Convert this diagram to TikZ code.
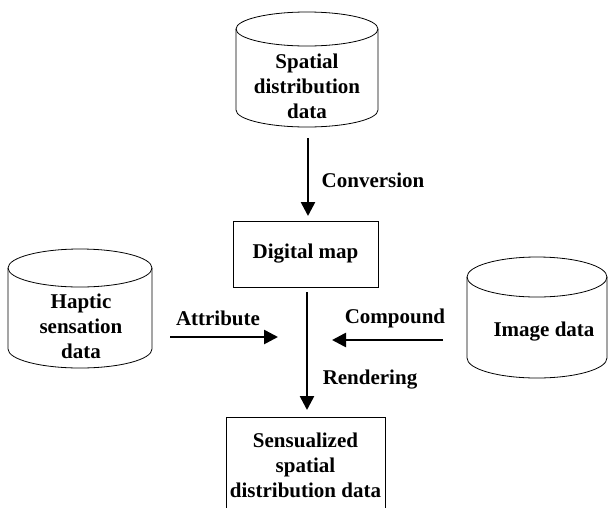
\documentclass[tikz,border=0pt]{standalone}
\usepackage{fontspec}
\setmainfont{Liberation Serif}
\usetikzlibrary{arrows.meta}
\newcommand\dbcyl[5]{% cx, ytop, ybot, rx, ry
  \draw[thinline] (#1-#4,#2) -- (#1-#4,#3) arc[start angle=180,end angle=360,x radius=#4,y radius=#5] -- (#1+#4,#2);
  \draw[thinline] (#1,#2) ellipse[x radius=#4,y radius=#5];}
\begin{document}
\begin{tikzpicture}[x=1pt,y=1pt,
  lbl/.style={font=\fontsize{21}{25}\selectfont\bfseries, align=center, inner sep=0pt},
  thinline/.style={line width=0.8pt},
  flow/.style={line width=2.6pt, -{Triangle[length=14pt,width=14pt]}},
  boxnode/.style={draw, line width=0.8pt, lbl}]
\clip (0,0) rectangle (608,-507);
\useasboundingbox (0,0) rectangle (608,-507);
\fill[white] (0,0) rectangle (608,-507);
% cylinders
\dbcyl{307}{-29}{-110}{71}{17}
\dbcyl{80}{-268}{-349}{72}{19}
\dbcyl{537}{-277}{-358}{70}{20}
\node[lbl] (spatial) at (307,-86) {Spatial\\distribution\\data};
\node[lbl] (haptic) at (81,-326) {Haptic\\sensation\\data};
\node[lbl] (image) at (544,-332) {Image data};
% boxes
\node[boxnode, minimum width=145pt, minimum height=66pt] (dmap) at (305.5,-254) {Digital map};
\node[boxnode, minimum width=159pt, minimum height=96pt] (sens) at (305.5,-465) {Sensualized\\spatial\\distribution data};
% labels
\node[lbl] (conv) at (373,-180) {Conversion};
\node[lbl] (attr) at (218,-318) {Attribute};
\node[lbl] (comp) at (395,-318) {Compound};
\node[lbl] (rend) at (370,-380) {Rendering};
% arrows
\coordinate (convS) at (308,-138);
\coordinate (convE) at (308,-216);
\coordinate (rendS) at (307,-292);
\coordinate (rendE) at (307,-410);
\coordinate (attrS) at (170,-337);
\coordinate (attrE) at (278,-337);
\coordinate (compS) at (443,-340);
\coordinate (compE) at (332,-340);
\draw[flow] (convS) -- (convE);
\draw[flow] (rendS) -- (rendE);
\draw[flow] (attrS) -- (attrE);
\draw[flow] (compS) -- (compE);
\end{tikzpicture}
\end{document}
